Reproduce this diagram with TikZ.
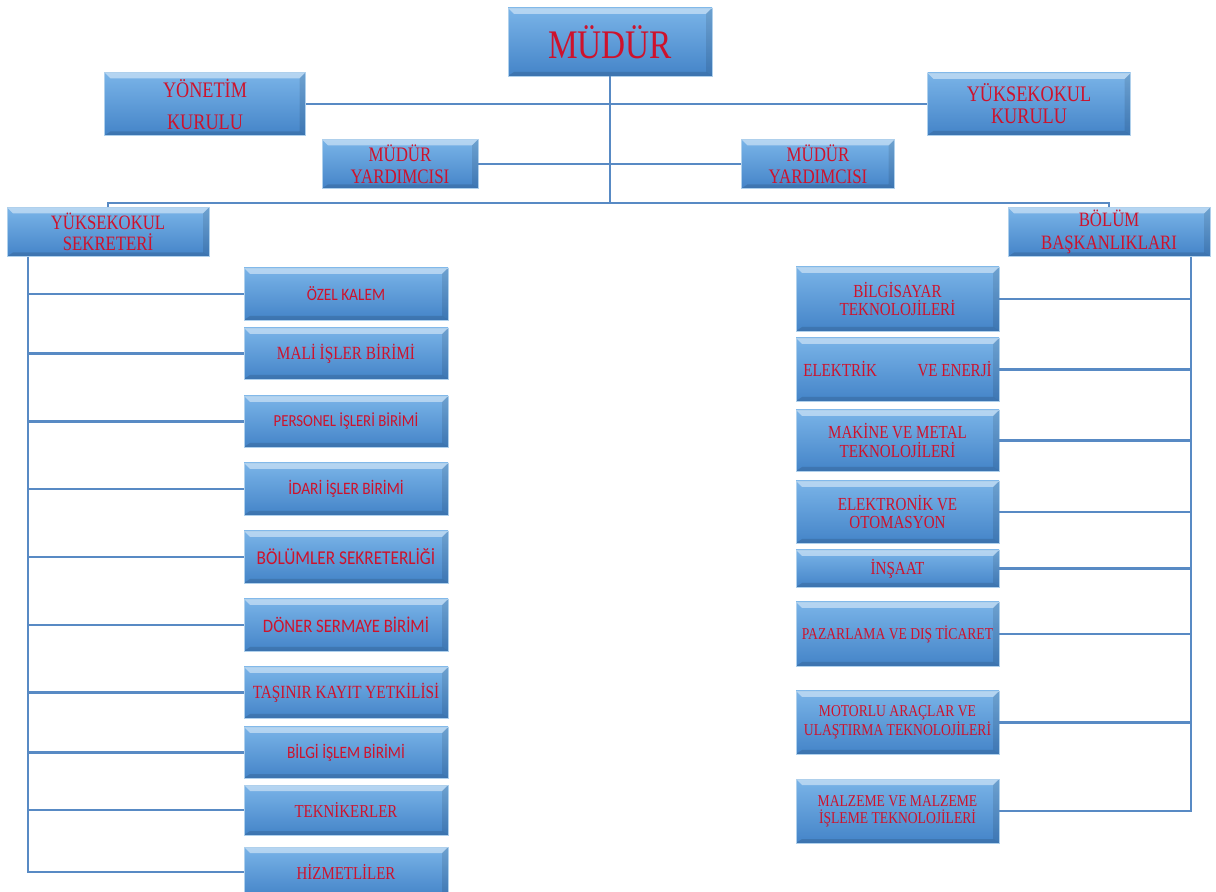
\documentclass[tikz,border=0pt]{standalone}
\usepackage{fontspec}
\setmainfont{Liberation Serif}[FakeStretch=0.82]
\newfontfamily\duz{Carlito}[FakeStretch=0.88]

\definecolor{yazi}{RGB}{206,18,44}
\definecolor{hat}{RGB}{88,138,196}
\definecolor{kutuust}{RGB}{122,180,232}
\definecolor{kutualt}{RGB}{68,132,200}
\definecolor{kenar}{RGB}{175,208,236}

\tikzset{
  bevel/.style={path picture={
    \fill[white,opacity=.45] (path picture bounding box.north west) -- (path picture bounding box.north east)
      -- ([shift={(-3pt,-3pt)}]path picture bounding box.north east) -- ([shift={(3pt,-3pt)}]path picture bounding box.north west) -- cycle;
    \fill[black,opacity=.12] (path picture bounding box.south west) -- (path picture bounding box.south east)
      -- ([shift={(-3pt,2pt)}]path picture bounding box.south east) -- ([shift={(3pt,2pt)}]path picture bounding box.south west) -- cycle;
    \fill[black,opacity=.10] (path picture bounding box.north east) -- (path picture bounding box.south east)
      -- ([shift={(-3pt,2pt)}]path picture bounding box.south east) -- ([shift={(-3pt,-3pt)}]path picture bounding box.north east) -- cycle;
  }},
  kutu/.style={rectangle, draw=kenar, line width=.4pt, top color=kutuust, bottom color=kutualt,
    inner sep=0pt, align=center, text=yazi, bevel},
  serif/.style={font=\fontsize{#1}{#1}\selectfont},
  sans/.style={font=\duz\fontsize{#1}{#1}\selectfont},
  hatti/.style={draw=hat, line width=1.4pt}
}

\begin{document}
\begin{tikzpicture}[x=0.5pt,y=-0.5pt]
    \useasboundingbox (0,0) rectangle (1216,892);

    %top
    \node[kutu, minimum width=102pt, minimum height=34pt, serif=20.3] (mudur) at (610,42) {MÜDÜR};
    \node[kutu, minimum width=100.5pt, minimum height=31.5pt, font=\fontsize{11.1}{13}\selectfont] (yonetim) at (205,104) {YÖNETİM\\[3pt]KURULU};
    \node[kutu, minimum width=101.5pt, minimum height=31pt, font=\fontsize{11.1}{11}\selectfont] (yokurul) at (1029,104) {YÜKSEKOKUL\\KURULU};
    \node[kutu, minimum width=78pt, minimum height=24.5pt, font=\fontsize{10.3}{11}\selectfont] (myard1) at (400,164) {MÜDÜR\\YARDIMCISI};
    \node[kutu, minimum width=76.5pt, minimum height=24.5pt, font=\fontsize{10.3}{11}\selectfont] (myard2) at (818,164) {MÜDÜR\\YARDIMCISI};
    \node[kutu, minimum width=101pt, minimum height=24.5pt, font=\fontsize{10.2}{10.8}\selectfont] (sekreter) at (108,232) {YÜKSEKOKUL\\SEKRETERİ};
    \node[kutu, minimum width=101pt, minimum height=24.5pt, font=\fontsize{10.2}{11.2}\selectfont] (bolum) at (1109,232) {BÖLÜM\\BAŞKANLIKLARI};

    %left column
    \node[kutu, minimum width=102pt, minimum height=26pt, sans=8.7] (ozel) at (346,294) {ÖZEL KALEM};
    \node[kutu, minimum width=102pt, minimum height=25.5pt, serif=9.3] (mali) at (346,353.5) {MALİ İŞLER BİRİMİ};
    \node[kutu, minimum width=102pt, minimum height=25.5pt, sans=8.4] (personel) at (346,421.5) {PERSONEL İŞLERİ BİRİMİ};
    \node[kutu, minimum width=102pt, minimum height=26pt, sans=8.7] (idari) at (346,489) {İDARİ İŞLER BİRİMİ};
    \node[kutu, minimum width=102pt, minimum height=26pt, sans=9.8] (bolumsek) at (346,557) {BÖLÜMLER SEKRETERLİĞİ};
    \node[kutu, minimum width=102pt, minimum height=26pt, sans=9.5] (doner) at (346,625) {DÖNER SERMAYE BİRİMİ};
    \node[kutu, minimum width=102pt, minimum height=25.5pt, serif=9.3] (tasinir) at (346,692.5) {TAŞINIR KAYIT YETKİLİSİ};
    \node[kutu, minimum width=102pt, minimum height=25.5pt, sans=8.7] (bilgiislem) at (346,752.5) {BİLGİ İŞLEM BİRİMİ};
    \node[kutu, minimum width=102pt, minimum height=25pt, serif=9.1] (teknik) at (346,810) {TEKNİKERLER};
    \node[kutu, minimum width=102pt, minimum height=25pt, serif=9.1] (hizmet) at (346,872) {HİZMETLİLER};

    %right column
    \node[kutu, minimum width=101.5pt, minimum height=32pt, serif=9.2] (bilgisayar) at (897.5,299) {BİLGİSAYAR\\TEKNOLOJİLERİ};
    \node[kutu, minimum width=101.5pt, minimum height=31.5pt, serif=9.2] (elektrik) at (897.5,369.5) {ELEKTRİK\hspace{2.2em}VE ENERJİ};
    \node[kutu, minimum width=101.5pt, minimum height=30.5pt, serif=9.2] (makine) at (897.5,440.5) {MAKİNE VE METAL\\TEKNOLOJİLERİ};
    \node[kutu, minimum width=101.5pt, minimum height=31pt, serif=9.2] (elektronik) at (897.5,512) {ELEKTRONİK VE\\OTOMASYON};
    \node[kutu, minimum width=101.5pt, minimum height=18.5pt, serif=9.2] (insaat) at (897.5,568.5) {İNŞAAT};
    \node[kutu, minimum width=101.5pt, minimum height=32pt, serif=8.3] (pazarlama) at (897.5,634) {PAZARLAMA VE DIŞ TİCARET};
    \node[kutu, minimum width=101.5pt, minimum height=31.5pt, serif=8.3] (motorlu) at (897.5,722.5) {MOTORLU ARAÇLAR VE\\ULAŞTIRMA TEKNOLOJİLERİ};
    \node[kutu, minimum width=101.5pt, minimum height=32pt, serif=8.3] (malzeme) at (897.5,811) {MALZEME VE MALZEME\\İŞLEME TEKNOLOJİLERİ};

    %lines top
    \coordinate (dal) at (610,203);
    \coordinate (solkol) at (28,0);
    \coordinate (sagkol) at (1191,0);
    \draw[hatti] (mudur.south) -- (dal);
    \draw[hatti] (yonetim.east) -- (yokurul.west);
    \draw[hatti] (myard1.east) -- (myard2.west);
    \draw[hatti] (sekreter.north) |- (dal) -| (bolum.north);

    %lines left
    \draw[hatti] (sekreter.south -| solkol) |- (hizmet.west);
    \foreach \k in {ozel,mali,personel,idari,bolumsek,doner,tasinir,bilgiislem,teknik}
        \draw[hatti] (\k.west -| solkol) -- (\k.west);

    %lines right
    \draw[hatti] (bolum.south -| sagkol) |- (malzeme.east);
    \foreach \k in {bilgisayar,elektrik,makine,elektronik,insaat,pazarlama,motorlu}
        \draw[hatti] (\k.east -| sagkol) -- (\k.east);
\end{tikzpicture}
\end{document}
